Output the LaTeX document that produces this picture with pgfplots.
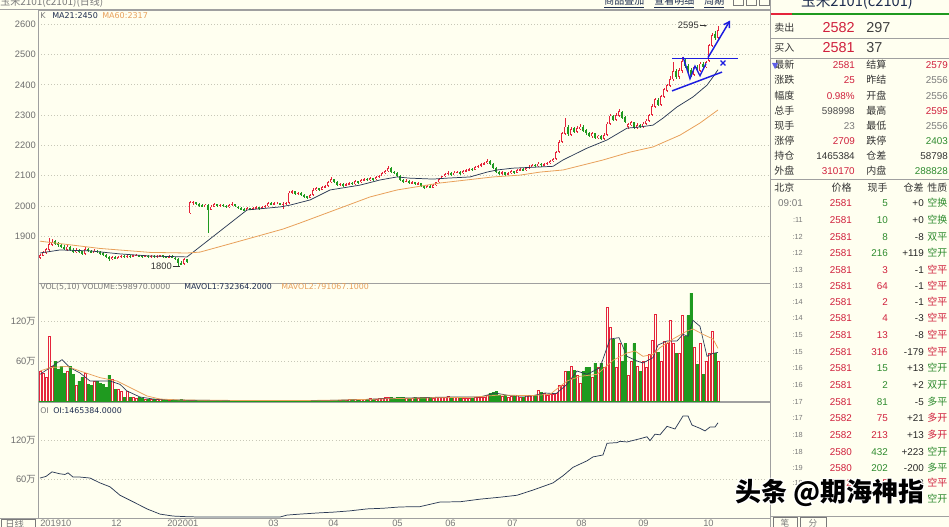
\documentclass[border=0pt]{standalone}
\usepackage{pgfplots}
\pgfplotsset{compat=1.18}
\usepackage{pgfplotstable}
\usepackage{fontspec}
\setmainfont{Liberation Sans}
\newfontfamily\dv{DejaVu Sans}
\newfontfamily\cjk{Noto Sans CJK SC}
\usetikzlibrary{arrows.meta}
\definecolor{bg}{HTML}{FFFFF0}
\definecolor{kred}{HTML}{E5243B}
\definecolor{kgreen}{HTML}{1F9A1F}
\definecolor{navy}{HTML}{1E2D4F}
\definecolor{maor}{HTML}{E8A05A}
\definecolor{mak}{HTML}{2B3A55}
\definecolor{gridc}{HTML}{C8C8B8}
\definecolor{framec}{HTML}{A0A0A0}
\definecolor{tickc}{HTML}{6E6E6E}
\definecolor{tred}{HTML}{D0203C}
\definecolor{tgreen}{HTML}{2E8B2E}
\definecolor{tgrey}{HTML}{7A7A7A}
\definecolor{bluel}{HTML}{1C1CE0}
\newcommand\fs[1]{\fontsize{#1}{#1}\selectfont}

\pgfplotstableread{
x o h l c v
40 1830 1842 1826 1838 45
43 1836 1852 1834 1848 42
46 1846 1862 1842 1858 35
49 1856 1895 1852 1875 97
52 1872 1890 1868 1882 52
55 1884 1888 1872 1876 60
58 1878 1882 1866 1870 48
61 1872 1876 1862 1866 52
64 1866 1870 1855 1858 42
67 1856 1870 1852 1866 45
70 1866 1868 1852 1856 52
73 1856 1860 1844 1848 40
76 1848 1862 1846 1856 23
79 1856 1858 1844 1848 30
82 1850 1852 1838 1842 35
85 1842 1864 1840 1858 42
88 1858 1862 1848 1852 25
91 1852 1856 1844 1847 23
94 1846 1858 1844 1853 30
97 1853 1856 1844 1848 30
100 1848 1852 1840 1844 27
103 1844 1848 1836 1840 25
106 1840 1842 1828 1832 20
109 1832 1836 1818 1824 39
112 1824 1836 1822 1832 33
115 1832 1834 1824 1827 18
118 1826 1836 1824 1832 18
121 1832 1840 1830 1836 15
124 1836 1838 1828 1832 6
127 1832 1840 1830 1836 15
130 1836 1838 1830 1833 6
133 1833 1840 1831 1837 5
136 1836 1842 1834 1839 4
139 1838 1840 1832 1835 5
142 1835 1838 1830 1833 4
145 1833 1840 1831 1837 3
148 1836 1838 1830 1832 3
151 1832 1838 1830 1836 2
154 1836 1838 1830 1832 2
157 1832 1838 1830 1835 2
160 1834 1840 1832 1837 2
163 1837 1839 1830 1832 1.5
166 1832 1835 1828 1830 1.2
169 1830 1838 1828 1835 1
172 1834 1837 1828 1831 1
175 1830 1832 1822 1826 1
178 1826 1828 1800 1812 1.5
181 1812 1818 1804 1808 2
184 1808 1830 1806 1825 1
187 1824 1826 1812 1816 1
190 1976 2016 1974 2012 1.5
193 2010 2018 2004 2014 0.8
196 2012 2014 2002 2006 0.8
199 2006 2010 1998 2002 0.6
202 2002 2006 1996 1999 0.6
205 1998 2008 1996 2005 0.8
208 2004 2008 1910 1988 1.2
211 1988 2004 1986 1998 0.6
214 1998 2010 1996 2006 0.6
217 2006 2008 1996 2000 0.5
220 2000 2008 1998 2004 0.5
223 2004 2006 1996 2000 0.5
226 2000 2002 1994 1997 0.5
229 1997 2006 1995 2003 0.5
232 2003 2012 2001 2008 0.6
235 2006 2008 1996 1999 0.6
238 1998 2000 1990 1994 0.5
241 1994 1996 1986 1989 0.5
244 1990 1992 1982 1985 0.5
247 1985 1996 1983 1992 0.5
250 1992 1994 1986 1989 0.5
253 1989 1996 1987 1993 0.5
256 1993 2000 1991 1997 0.5
259 1997 1998 1988 1992 0.5
262 1992 2000 1990 1997 0.5
265 1997 2003 1995 2000 0.5
268 2000 2012 1998 2009 0.6
271 2009 2012 2003 2006 0.6
274 2006 2012 2004 2009 0.6
277 2009 2012 2006 2009 0.6
280 2009 2011 2004 2007 0.6
283 2006 2012 1990 2008 0.8
286 2008 2012 2004 2010 0.8
289 2010 2050 2008 2044 1
292 2044 2054 2040 2048 1
295 2048 2050 2036 2040 0.8
298 2040 2046 2036 2043 0.8
301 2043 2045 2032 2036 0.8
304 2036 2040 2028 2032 0.8
307 2032 2034 2024 2028 0.8
310 2028 2040 2026 2036 0.8
313 2036 2058 2034 2052 1
316 2052 2062 2048 2058 1
319 2058 2060 2050 2054 1
322 2054 2066 2052 2062 1
325 2062 2070 2058 2066 1
328 2066 2084 2064 2080 1.2
331 2080 2096 2076 2088 1.2
334 2088 2090 2076 2080 1.5
337 2080 2082 2066 2070 1.5
340 2070 2076 2066 2073 1.5
343 2073 2075 2064 2068 1.5
346 2068 2076 2066 2072 1.5
349 2072 2080 2070 2076 2
352 2076 2078 2070 2073 2
355 2073 2086 2071 2082 2
358 2082 2084 2074 2078 2.5
361 2078 2088 2076 2085 2.5
364 2085 2094 2083 2090 3
367 2090 2092 2082 2086 3
370 2086 2096 2084 2092 4
373 2092 2094 2084 2088 3
376 2088 2098 2086 2095 3
379 2095 2104 2093 2100 4
382 2100 2112 2098 2108 4
385 2108 2118 2106 2115 5
388 2115 2132 2112 2125 5
391 2125 2128 2108 2112 6
394 2112 2116 2106 2110 4
397 2110 2112 2096 2100 5
400 2100 2102 2082 2085 6
403 2085 2088 2076 2080 5
406 2080 2088 2078 2084 4
409 2084 2086 2072 2075 4
412 2075 2082 2073 2078 4
415 2078 2080 2068 2072 5
418 2072 2078 2070 2075 4
421 2075 2077 2064 2066 5
424 2066 2068 2056 2060 6
427 2060 2070 2058 2066 5
430 2066 2068 2058 2061 5
433 2061 2072 2059 2068 4
436 2068 2080 2066 2078 5
439 2078 2092 2076 2090 5
442 2090 2100 2088 2098 6
445 2098 2108 2096 2105 6
448 2105 2114 2103 2110 7
451 2110 2112 2100 2104 5
454 2104 2114 2102 2110 5
457 2110 2116 2108 2113 5
460 2113 2115 2104 2108 4
463 2108 2118 2106 2115 4
466 2115 2122 2113 2118 4
469 2118 2126 2116 2123 4
472 2123 2125 2116 2120 4
475 2120 2132 2118 2128 5
478 2128 2136 2126 2133 5
481 2133 2142 2130 2138 6
484 2138 2146 2136 2142 6
487 2142 2154 2140 2149 8
490 2149 2151 2136 2140 12
493 2140 2142 2122 2125 13
496 2125 2128 2110 2113 14
499 2113 2116 2102 2106 9
502 2106 2114 2104 2111 7
505 2111 2113 2100 2103 9
508 2103 2112 2101 2108 6
511 2108 2118 2106 2115 7
514 2115 2117 2106 2110 7
517 2110 2122 2108 2118 9
520 2118 2126 2116 2122 6
523 2122 2124 2114 2118 5
526 2118 2128 2116 2125 9
529 2125 2134 2123 2130 8
532 2130 2140 2128 2136 9
535 2136 2138 2128 2132 8
538 2132 2144 2130 2140 16
541 2140 2142 2130 2135 13
544 2135 2142 2133 2139 11
547 2139 2146 2137 2142 9
550 2142 2152 2140 2148 10
553 2148 2160 2146 2155 10
556 2155 2182 2152 2178 12
559 2178 2218 2175 2212 24
562 2212 2245 2208 2240 24
565 2238 2290 2234 2262 45
568 2262 2266 2232 2238 45
571 2236 2260 2232 2255 52
574 2256 2262 2240 2245 46
577 2244 2264 2240 2258 39
580 2255 2270 2252 2262 27
583 2262 2266 2244 2248 44
586 2250 2254 2236 2240 50
589 2240 2244 2228 2232 50
592 2230 2244 2226 2240 35
595 2240 2242 2220 2226 57
598 2224 2236 2220 2232 50
601 2232 2234 2218 2222 57
604 2222 2240 2218 2235 50
607 2235 2278 2232 2272 140
610 2272 2304 2268 2298 110
613 2298 2302 2280 2285 92
616 2284 2306 2280 2300 50
619 2298 2320 2294 2312 86
622 2310 2314 2288 2292 59
625 2294 2298 2274 2278 86
628 2262 2274 2255 2270 39
631 2268 2282 2264 2276 60
634 2276 2278 2254 2260 86
637 2258 2274 2254 2268 52
640 2268 2272 2256 2260 44
643 2260 2276 2256 2272 60
646 2270 2286 2266 2282 50
649 2280 2304 2276 2300 70
652 2300 2336 2296 2330 91
655 2328 2358 2324 2352 130
658 2350 2356 2330 2335 73
661 2335 2366 2330 2362 59
664 2360 2390 2356 2385 90
667 2380 2404 2376 2398 87
670 2396 2428 2392 2420 121
673 2418 2475 2414 2445 87
676 2445 2452 2420 2425 72
679 2425 2454 2420 2448 72
682 2446 2492 2440 2478 128
685 2478 2486 2456 2462 97
688 2462 2468 2440 2448 128
691 2450 2454 2426 2430 162
694 2432 2462 2428 2458 80
697 2460 2466 2444 2448 55
700 2446 2476 2442 2470 86
703 2470 2474 2452 2458 40
706 2458 2480 2454 2475 60
709 2478 2536 2474 2530 71
712 2528 2570 2524 2565 104
715 2568 2578 2548 2556 71
718 2556 2595 2552 2581 60
}\kdata

\pgfplotstableread{
x y
40 1845
60 1855
90 1852
120 1842
150 1835
187 1832
247 1987
280 1997
290 2003
310 2020
330 2053
360 2069
380 2086
397 2096
410 2092
433 2089
447 2092
470 2096
487 2112
497 2119
513 2125
540 2129
553 2131
563 2152
587 2191
607 2218
627 2257
640 2261
653 2267
663 2290
677 2327
693 2360
707 2399
713 2426
718 2450
}\matwo

\pgfplotstableread{
x y
40 1884
100 1860
150 1847
187 1845
200 1848
233 1878
283 1924
300 1944
370 2030
397 2053
440 2076
493 2096
520 2102
540 2112
563 2119
603 2152
630 2178
653 2195
680 2234
700 2274
718 2317
}\masix

\pgfplotstableread{
x y
40 40
50 50
62 62
70 50
80 42
90 30
100 30
110 30
120 25
127 15
140 6
153 3
167 2
190 1.2
250 0.6
300 0.7
330 1
360 2
390 4
420 5
450 6
480 6
495 12
510 8
530 7
545 12
556 11
567 25
577 45
587 40
600 50
610 93
619 95
627 67
637 60
643 57
653 65
658 84
667 90
677 90
683 100
688 97
693 121
700 112
707 67
712 71
718 73
}\mvone

\pgfplotstableread{
x y
40 45
50 50
67 52
80 45
100 35
117 30
133 18
147 7.5
160 3
180 1.5
250 0.7
330 1
380 3
420 4.5
470 5.5
500 9
530 8
550 10
567 30
580 37
597 40
613 61
627 72
635 75
643 67
653 70
660 80
673 93
687 105
693 108
703 100
713 93
718 79
}\mvtwo

\pgfplotstableread{
x y
40 61.5
46 64
52 71
60 68
65 67
68 69.5
73 63
80 63
90 61.5
100 54
110 48
120 35
133 25
147 14
160 6
173 3
187 2
200 1.5
280 1.5
287 4.5
300 6
320 8
333 9
350 11
367 14
383 15
400 17
420 17.5
440 24.6
460 25
480 29
500 32
517 35
533 43
553 54
563 65
573 78
587 88
593 94
603 97
607 115
617 116
620 118
627 117
640 122
647 125
650 119
655 129
660 128
667 141
675 137
683 157
688 157
692 143
700 138
705 134
710 140
715 140
718 146.5
}\oidata

\pgfplotsset{panel/.style={
  scale only axis, width=549pt, xmin=38, xmax=770, anchor=north west,
  axis line style={framec, line width=0.6pt},
  xtick=\empty, major tick length=0pt,
  ymajorgrids, grid style={gridc, dotted, line width=0.5pt},
  yticklabel style={font=\fs{7}, text=tickc, inner sep=1.5pt},
  axis background/.style={fill=bg},
},
ebar/.style 2 args={draw=none, mark=none, error bars/.cd, y dir=both, y explicit, error mark=none,
  error bar style={draw=#1, line width=#2}},
}

\newcommand\trow[7]{%
 \node[anchor=east,text=tgrey,font=\fs{5.5}] at (803,#1) {#2};
 \node[anchor=east,text=tred,font=\fs{7.4}] at (852,#1) {#3};
 \node[anchor=east,text=#7,font=\fs{7.4}] at (888,#1) {#4};
 \node[anchor=east,text=black!85,font=\fs{7.4}] at (924,#1) {#5};
 \node[anchor=west,text=#7,font=\cjk\fs{7.5}] at (927,#1) {#6};
}
\newcommand\qrow[7]{%
 \node[anchor=west,text=black!80,font=\cjk\fs{7.5}] at (774,#1) {#2};
 \node[anchor=east,text=#4,font=\fs{7.4}] at (855,#1) {#3};
 \node[anchor=west,text=black!80,font=\cjk\fs{7.5}] at (866,#1) {#5};
 \node[anchor=east,text=#7,font=\fs{7.4}] at (948,#1) {#6};
}

\begin{document}
\begin{tikzpicture}
\useasboundingbox (0,0) rectangle (711.75pt,-395.25pt);
\fill[bg] (0,0) rectangle (711.75pt,-395.25pt);

% ---------------- price panel
\begin{axis}[panel, at={(28.5pt,-7.5pt)}, height=204.75pt,
  ymin=1746, ymax=2647, ytick={1900,2000,2100,2200,2300,2400,2500,2600},
  yticklabels={1900,2000,2100,2200,2300,2400,2500,2600}]
% wicks
\addplot[ebar={kred}{0.45pt}]
  table[x=x, y expr={\thisrow{c}>=\thisrow{o} ? (\thisrow{h}+\thisrow{l})/2 : 0},
        y error expr={(\thisrow{h}-\thisrow{l})/2}] {\kdata};
\addplot[ebar={kgreen}{0.45pt}]
  table[x=x, y expr={\thisrow{c}<\thisrow{o} ? (\thisrow{h}+\thisrow{l})/2 : 0},
        y error expr={(\thisrow{h}-\thisrow{l})/2}] {\kdata};
% bodies
\addplot[ebar={kred}{1.7pt}]
  table[x=x, y expr={\thisrow{c}>=\thisrow{o} ? (\thisrow{o}+\thisrow{c})/2 : 0},
        y error expr={(\thisrow{c}-\thisrow{o})/2}] {\kdata};
\addplot[ebar={bg}{0.6pt}]
  table[x=x, y expr={\thisrow{c}>=\thisrow{o} ? (\thisrow{o}+\thisrow{c})/2 : 0},
        y error expr={max((\thisrow{c}-\thisrow{o})/2-2.5,0)}] {\kdata};
\addplot[ebar={kgreen}{1.7pt}]
  table[x=x, y expr={\thisrow{c}<\thisrow{o} ? (\thisrow{o}+\thisrow{c})/2 : 0},
        y error expr={(\thisrow{o}-\thisrow{c})/2}] {\kdata};
% moving averages
\addplot[mak, line width=0.55pt] table {\matwo};
\addplot[maor, line width=0.6pt] table {\masix};
% drawn trend lines
\addplot[bluel, line width=1.1pt] coordinates {(672,2487) (738,2487)};
\addplot[bluel, line width=1.1pt] coordinates {(672,2380) (722,2442)};
\addplot[bluel, line width=1.0pt] coordinates {(683,2492) (690,2420) (695,2462) (700,2430) (706,2470)};
\addplot[bluel, line width=1.1pt, -{Straight Barb[length=4pt,width=5pt]}] coordinates {(708,2490) (730,2612)};
\addplot[bluel, line width=0.9pt, only marks, mark=x, mark size=2.6pt] coordinates {(723,2472)};
\node[anchor=east, inner sep=0pt, font=\fs{7}, text=black!80] at (axis cs:699,2595) {2595};
\draw[black!80, line width=0.4pt, -{Stealth[length=2pt]}] (axis cs:699.5,2595) -- (axis cs:707,2595);
\node[anchor=east, inner sep=0pt, font=\fs{7}, text=black!80] at (axis cs:172,1800) {1800};
\draw[black!80, line width=0.4pt] (axis cs:172.5,1800) -- (axis cs:180,1800);
\end{axis}

% ---------------- volume panel
\begin{axis}[panel, at={(28.5pt,-212.25pt)}, height=88.5pt,
  ymin=0, ymax=177, ytick={60,120}, yticklabels={60{\cjk 万},120{\cjk 万}}]
\addplot[ybar, bar width=2.2, bar shift=0pt, draw=kred, fill=bg, line width=0.45pt]
  table[x=x, y expr={\thisrow{c}>=\thisrow{o} ? \thisrow{v} : -20}] {\kdata};
\addplot[ybar, bar width=2.2, bar shift=0pt, draw=kgreen, fill=kgreen, line width=0.3pt]
  table[x=x, y expr={\thisrow{c}<\thisrow{o} ? \thisrow{v} : -20}] {\kdata};
\addplot[mak, line width=0.5pt] table {\mvone};
\addplot[maor, line width=0.55pt] table {\mvtwo};
\end{axis}

% ---------------- open interest panel
\begin{axis}[panel, at={(28.5pt,-301.5pt)}, height=87pt,
  ymin=0, ymax=178.5, ytick={60,120}, yticklabels={60{\cjk 万},120{\cjk 万}}]
\addplot[mak, line width=0.55pt] table {\oidata};
\end{axis}

\begin{scope}[x=0.75pt, y=-0.75pt, every node/.style={inner sep=0pt}]
% frame lines
\draw[framec, line width=0.6pt] (0,9) -- (770,9);
\draw[framec, line width=0.6pt] (770,0) -- (770,527);
\draw[framec, line width=0.6pt] (0,518) -- (770,518);
% titles
\node[anchor=west, font=\cjk\fs{7.5}, text=tgrey] at (0,2) {玉米2101(c2101)(日线)};
\node[anchor=west, font=\cjk\fs{7.5}, text=navy] at (604,2) {\underline{商品叠加}\quad\underline{查看明细}\quad\underline{周期}};
\draw[tgrey, line width=0.4pt] (733,-2) rectangle (743,5) (746,-2) rectangle (756,5) (759,-2) rectangle (769,5);
% panel legends
\node[anchor=west, font=\dv\fs{6}, text=tgrey] at (40,16) {K};
\node[anchor=west, font=\dv\fs{6}, text=navy] at (52,16) {MA21:2450};
\node[anchor=west, font=\dv\fs{6}, text=maor] at (102,16) {MA60:2317};
\node[anchor=west, font=\dv\fs{5.9}, text=tgrey] at (40,287) {VOL(5,10) VOLUME:598970.0000};
\node[anchor=west, font=\dv\fs{5.9}, text=navy] at (184,287) {MAVOL1:732364.2000};
\node[anchor=west, font=\dv\fs{5.9}, text=maor] at (281,287) {MAVOL2:791067.1000};
\node[anchor=west, font=\dv\fs{5.9}, text=tgrey] at (40,411) {OI};
\node[anchor=west, font=\dv\fs{5.9}, text=navy] at (53,411) {OI:1465384.0000};
% date axis
\draw[tgrey, line width=0.4pt] (1,519) rectangle (35,530);
\node[anchor=west, font=\cjk\fs{7}, text=tgrey] at (5,523.5) {日线};
\foreach \xx/\lab in {40/201910,111/12,167/202001,268/03,328/04,392/05,445/06,507/07,576/08,638/09,703/10}
  \node[anchor=west, font=\fs{7}, text=tgrey] at (\xx,523.5) {\lab};
% right quote panel
\node[font=\cjk\fs{11}, text=navy] at (857,2) {玉米2101(c2101)};
\draw[kred, line width=1.6pt] (771,14) -- (792,14);
\draw[kgreen, line width=1.6pt] (792,14) -- (949,14);
\node[anchor=west, font=\cjk\fs{7.5}, text=black!80] at (774,28) {卖出};
\node[anchor=east, font=\fs{10.8}, text=tred] at (855,28) {2582};
\node[anchor=west, font=\fs{10.8}, text=black!75] at (866,28) {297};
\draw[framec, line width=0.4pt] (771,38) -- (949,38);
\node[anchor=west, font=\cjk\fs{7.5}, text=black!80] at (774,48) {买入};
\node[anchor=east, font=\fs{10.8}, text=tred] at (855,48) {2581};
\node[anchor=west, font=\fs{10.8}, text=black!75] at (866,48) {37};
\draw[framec, line width=0.4pt] (771,58) -- (949,58);
\qrow{65}{最新}{2581}{tred}{结算}{2579}{tred}
\qrow{80}{涨跌}{25}{tred}{昨结}{2556}{tgrey}
\qrow{96}{幅度}{0.98\%}{tred}{开盘}{2556}{tgrey}
\qrow{111}{总手}{598998}{black!70}{最高}{2595}{tred}
\qrow{126}{现手}{23}{tgrey}{最低}{2556}{tgrey}
\qrow{141}{涨停}{2709}{tred}{跌停}{2403}{tgreen}
\qrow{156}{持仓}{1465384}{black!80}{仓差}{58798}{black!80}
\qrow{171}{外盘}{310170}{tred}{内盘}{288828}{tgreen}
\fill[bluel!70] (772,63) -- (778,63) -- (775,69) -- cycle;
\draw[framec, line width=0.4pt] (771,179) -- (949,179);
\node[anchor=west, font=\cjk\fs{7.5}, text=black!80] at (774,188) {北京};
\node[anchor=east, font=\cjk\fs{7.5}, text=black!80] at (852,188) {价格};
\node[anchor=east, font=\cjk\fs{7.5}, text=black!80] at (888,188) {现手};
\node[anchor=east, font=\cjk\fs{7.5}, text=black!80] at (924,188) {仓差};
\node[anchor=west, font=\cjk\fs{7.5}, text=black!80] at (927,188) {性质};
\trow{203}{\fs{7.4}09:01}{2581}{5}{+0}{空换}{tgreen}
\trow{220}{:11}{2581}{10}{+0}{空换}{tgreen}
\trow{237}{:12}{2581}{8}{-8}{双平}{tgreen}
\trow{253}{:12}{2581}{216}{+119}{空开}{tgreen}
\trow{270}{:13}{2581}{3}{-1}{空平}{tred}
\trow{286}{:13}{2581}{64}{-1}{空平}{tred}
\trow{302}{:14}{2581}{2}{-1}{空平}{tred}
\trow{318}{:14}{2581}{4}{-3}{空平}{tred}
\trow{335}{:15}{2581}{13}{-8}{空平}{tred}
\trow{352}{:15}{2581}{316}{-179}{空平}{tred}
\trow{368}{:16}{2581}{15}{+13}{空开}{tgreen}
\trow{385}{:16}{2581}{2}{+2}{双开}{tgreen}
\trow{402}{:17}{2581}{81}{-5}{多平}{tgreen}
\trow{418}{:17}{2582}{75}{+21}{多开}{tred}
\trow{435}{:18}{2582}{213}{+13}{多开}{tred}
\trow{452}{:18}{2580}{432}{+223}{空开}{tgreen}
\trow{468}{:19}{2580}{202}{-200}{多平}{tgreen}
\trow{483}{:19}{2582}{5}{-3}{空平}{tred}
\node[anchor=west,text=tgreen,font=\cjk\fs{7.5}] at (927,499) {空开};
\draw[framec, line width=0.4pt] (771,516) -- (949,516);
\draw[tgrey, line width=0.4pt] (773,517) rectangle (797,530) (800,517) rectangle (826,530);
\node[font=\cjk\fs{6.5}, text=tgrey] at (785,523) {笔};
\node[font=\cjk\fs{6.5}, text=tgrey] at (813,523) {分};
% watermark
\foreach \dx/\dy in {-1.2/0,1.2/0,0/-1.2,0/1.2,-0.9/-0.9,0.9/0.9,-0.9/0.9,0.9/-0.9}
  \node[anchor=west, font=\cjk\bfseries\fs{19.5}, text=white] at (735+\dx,493+\dy) {头条 @期海神指};
\node[anchor=west, font=\cjk\bfseries\fs{19.5}, text=black] at (735,493) {头条 @期海神指};
\end{scope}
\end{tikzpicture}
\end{document}
